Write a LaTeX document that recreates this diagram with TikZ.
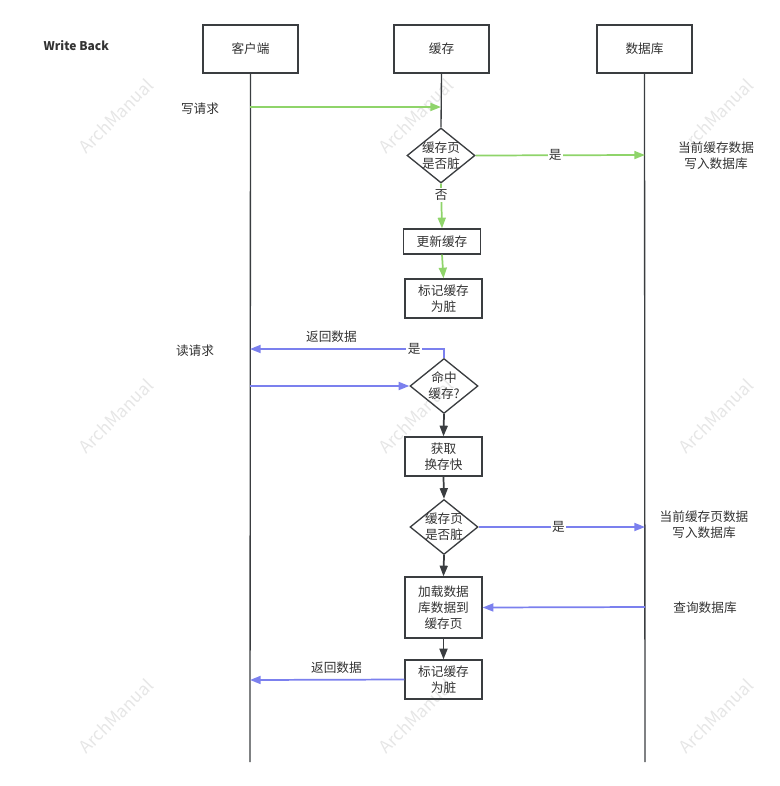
\documentclass[tikz,border=0pt]{standalone}
\usepackage{fontspec}
\setmainfont{Noto Sans CJK SC}
\usetikzlibrary{arrows.meta, positioning, shapes.geometric}
\definecolor{linegray}{HTML}{3A3D40}
\definecolor{wgreen}{HTML}{8FD46A}
\definecolor{rblue}{HTML}{7B80EE}
\definecolor{txtgray}{HTML}{333333}
\definecolor{wmgray}{HTML}{E6E6E6}

\begin{document}
\begin{tikzpicture}[x=0.75pt, y=-0.75pt,
    font=\fontsize{9.5}{12}\selectfont, text=txtgray,
    header/.style={draw=linegray, line width=1.1pt, minimum width=71.25pt, minimum height=36pt},
    procbox/.style={draw=linegray, line width=1pt, align=center, minimum width=57.75pt,
        minimum height=29.25pt, inner sep=1pt},
    decision/.style={diamond, draw=linegray, line width=1pt, minimum width=51pt,
        minimum height=41.25pt, inner sep=0pt},
    lifeline/.style={draw=linegray, line width=1pt},
    note/.style={align=center},
    edgelabel/.style={fill=white, inner sep=1pt},
    greenarrow/.style={-{Triangle[length=8pt, width=6pt]}, draw=wgreen, line width=1.3pt},
    bluearrow/.style={-{Triangle[length=8pt, width=6pt]}, draw=rblue, line width=1.3pt},
    blackarrow/.style={-{Triangle[length=8pt, width=6pt]}, draw=linegray, line width=1.3pt},
    watermark/.style={text=wmgray, rotate=45, font=\fontsize{13}{15}\selectfont}
]
\useasboundingbox (0,0) rectangle (779,786);

% watermarks
\foreach \i in {0,1,2}
  \foreach \j in {0,1,2}
    \node[watermark] (wm\i\j) at ({116+300*\i}, {116+300*\j}) {ArchManual};

\node[anchor=west, font=\fontsize{9}{12}\selectfont\bfseries] (title) at (39,46) {Write Back};

% participants
\node[header] (client) at (250.5,49) {客户端};
\node[header] (cache) at (441.5,49) {缓存};
\node[header] (db) at (644.5,49) {数据库};
\coordinate (clientend) at (250,762);
\coordinate (dbend) at (645,762);
\draw[lifeline] (client.south) -- (clientend);
\draw[lifeline] (db.south) -- (dbend);

% write path
\coordinate (wreqc) at (250,107);
\coordinate (wreqk) at (441,107);
\coordinate (dbdirty) at (645,155);
\node (wreqlabel) at (200,109) {写请求};
\node[decision, label={[note]center:缓存页\\是否脏}] (dirty1) at (441,155.5) {};
\node[procbox, minimum height=18.75pt] (update) at (442,241.5) {更新缓存};
\node[procbox] (mark1) at (443.5,298.5) {标记缓存\\为脏};
\node[note] (dbnote1) at (716,156) {当前缓存数据\\写入数据库};
\draw[greenarrow] (wreqc) -- (wreqk);
\draw[lifeline] (cache.south) -- (dirty1.north);
\draw[greenarrow] (dirty1.east) -- node[edgelabel, pos=0.47] (yes1) {是} (dbdirty);
\draw[greenarrow] (dirty1.south) -- node[edgelabel, pos=0.25] (no1) {否} (update.north);
\draw[greenarrow] (update.south) -- (mark1.north);

% read path
\coordinate (ret1) at (250,349);
\coordinate (rreqc) at (250,386);
\coordinate (dbwrite) at (645,527);
\coordinate (dbquery) at (645,607);
\coordinate (ret2) at (250,680);
\node (rreqlabel) at (195,351) {读请求};
\node[decision, label={[note]center:命中\\缓存?}] (hit) at (444,386) {};
\node[procbox] (fetch) at (443.5,456.5) {获取\\换存快};
\node[decision, label={[note]center:缓存页\\是否脏}] (dirty2) at (444,527) {};
\node[procbox, minimum height=45.75pt] (load) at (443.5,607.5) {加载数据\\库数据到\\缓存页};
\node[procbox] (mark2) at (443.5,679.5) {标记缓存\\为脏};
\node[note] (dbnote2) at (704,525) {当前缓存页数据\\写入数据库};
\node[note] (dbnote3) at (705,608) {查询数据库};
\draw[bluearrow] (hit.north) |- node[edgelabel, pos=0.577] (yes2) {是}
    node[above=1pt, pos=0.79] (back1) {返回数据} (ret1);
\draw[bluearrow] (rreqc) -- (hit.west);
\draw[blackarrow] (hit.south) -- (fetch.north);
\draw[blackarrow] (fetch.south) -- (dirty2.north);
\draw[bluearrow] (dirty2.east) -- node[edgelabel, pos=0.48] (yes3) {是} (dbwrite);
\draw[blackarrow] (dirty2.south) -- (load.north);
\draw[bluearrow] (dbquery) -- (load.east);
\draw[blackarrow] (load.south) -- (mark2.north);
\draw[bluearrow] (mark2.west) -- node[above=1pt, pos=0.44] (back2) {返回数据} (ret2);
\end{tikzpicture}
\end{document}
